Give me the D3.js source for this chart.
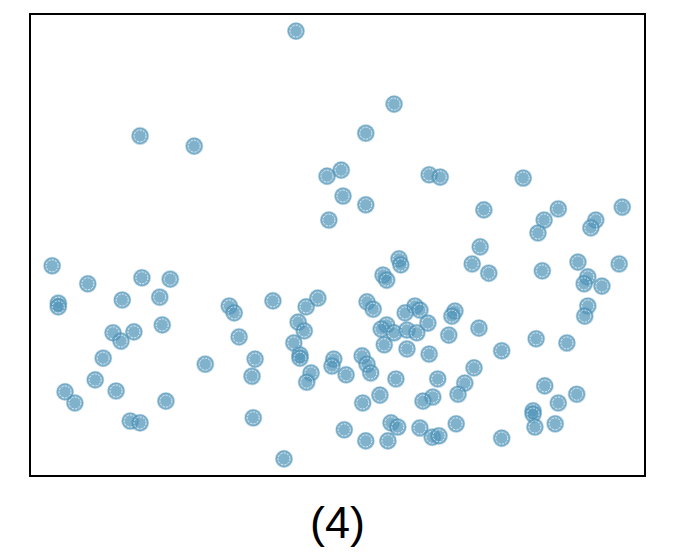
<!DOCTYPE html>
<html>
<head>
<meta charset="utf-8">
<script src="https://cdn.jsdelivr.net/npm/d3@7"></script>
<style>
  html, body { margin: 0; padding: 0; background: #fff; }
  svg { display: block; }
</style>
</head>
<body>
<svg id="chart" width="675" height="554"></svg>
<script>
// Data values (arbitrary units, 0-100 on both axes)
const xValues = [
  43.25,17.9,26.7,48.3,50.6,50.9,48.6,59.2,54.6,54.6,64.9,66.7,80.2,73.8,73.2,83.6,85.9,82.6,92.0,91.2,
  96.3,3.6,9.4,4.6,4.6,15.0,18.2,22.8,21.1,13.5,14.8,16.9,21.5,11.9,10.6,5.7,7.3,14.0,16.3,17.9,
  22.1,28.5,32.4,33.2,34.0,36.6,36.1,36.3,41.3,39.5,44.9,46.8,43.6,44.6,42.9,43.9,43.9,45.7,45.0,49.4,
  49.1,51.4,51.1,60.0,60.3,71.9,74.6,83.3,89.1,90.7,90.1,93.0,95.8,90.7,90.2,57.4,58.0,54.8,55.8,62.6,
  63.4,61.0,64.7,69.1,68.6,58.0,57.1,59.2,61.3,62.9,57.6,61.3,64.9,68.1,73.0,76.7,82.3,87.3,54.0,54.8,
  55.4,59.5,66.3,72.2,70.7,69.6,65.5,63.9,56.9,54.1,83.7,88.9,85.9,81.8,81.8,82.1,85.4,76.7,54.6,58.2,
  58.7,59.8,63.4,65.4,66.5,69.3
];
const yValues = [
  96.3,73.6,71.4,64.9,66.2,60.6,55.4,80.5,74.2,58.7,65.2,64.7,64.5,57.6,49.6,55.4,57.8,52.6,55.4,53.7,
  58.2,45.5,41.6,37.4,36.6,38.1,42.9,42.6,38.7,31.0,29.2,31.2,32.7,25.5,20.8,18.2,15.8,18.4,11.9,11.5,
  16.2,24.2,36.8,35.3,30.1,25.3,21.6,12.6,3.7,37.9,36.6,38.5,33.3,31.4,28.8,26.2,25.5,22.3,20.3,25.3,
  23.8,21.9,10.0,47.0,45.7,45.9,43.9,44.4,46.3,43.1,41.6,41.1,45.9,36.8,34.6,43.5,42.4,37.7,36.1,36.8,
  35.9,35.3,33.1,35.7,34.6,32.7,31.8,31.0,31.6,31.0,28.4,27.5,26.4,30.5,32.0,27.1,29.7,28.8,26.0,24.2,
  22.3,21.0,21.0,23.4,20.1,17.7,17.1,16.2,17.5,15.8,19.5,17.7,15.8,14.1,13.4,10.6,11.3,8.2,7.6,7.6,
  11.5,10.6,10.4,8.4,8.7,11.3
];
const panelLabel = "(4)";

const points = xValues.map((x, i) => ({ x, y: yValues[i] }));

const svg = d3.select("#chart");
const frame = { left: 30, top: 14, right: 645, bottom: 476 };

const x = d3.scaleLinear().domain([0, 100]).range([frame.left, frame.right]);
const y = d3.scaleLinear().domain([0, 100]).range([frame.bottom, frame.top]);

const color = "#4b92b6";

const g = svg.append("g");
const pts = g.selectAll("g.pt").data(points).join("g")
  .attr("class", "pt")
  .attr("transform", d => `translate(${x(d.x)},${y(d.y)})`);

pts.append("circle")
  .attr("r", 8.3)
  .attr("fill", color)
  .attr("fill-opacity", 0.7)
  .attr("stroke", color)
  .attr("stroke-opacity", 0.35)
  .attr("stroke-width", 1.6);

pts.append("circle")
  .attr("r", 6)
  .attr("fill", "none")
  .attr("stroke", "#ffffff")
  .attr("stroke-opacity", 0.9)
  .attr("stroke-width", 0.8)
  .attr("stroke-dasharray", "2.2,1.2");

svg.append("rect")
  .attr("x", frame.left)
  .attr("y", frame.top)
  .attr("width", frame.right - frame.left)
  .attr("height", frame.bottom - frame.top)
  .attr("fill", "none")
  .attr("stroke", "#000")
  .attr("stroke-width", 2);

svg.append("text")
  .attr("x", (frame.left + frame.right) / 2)
  .attr("y", 538)
  .attr("text-anchor", "middle")
  .attr("font-family", "'Liberation Sans', Arial, sans-serif")
  .attr("font-size", 45)
  .attr("fill", "#000")
  .text(panelLabel);
</script>
</body>
</html>
